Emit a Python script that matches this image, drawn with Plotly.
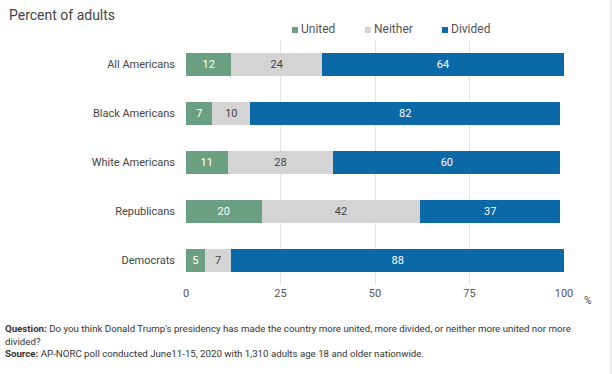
import plotly.graph_objects as go

categories = ["All Americans", "Black Americans", "White Americans", "Republicans", "Democrats"]
united = [12, 7, 11, 20, 5]
neither = [24, 10, 28, 42, 7]
divided = [64, 82, 60, 37, 88]
x_ticks = [0, 25, 50, 75, 100]
series_names = ["United", "Neither", "Divided"]

colors = {"United": "#6b9f82", "Neither": "#d4d4d4", "Divided": "#0a69a6"}
text_colors = {"United": "white", "Neither": "#444444", "Divided": "white"}

W, H = 612, 374
L, R, T, B = 186, 612 - 564, 40, 374 - 285
PW, PH = W - L - R, H - T - B


def px(xs):
    return (xs - L) / PW


def py(ys):
    return 1 - (ys - T) / PH


fig = go.Figure()
for name, vals in zip(series_names, [united, neither, divided]):
    fig.add_trace(go.Bar(
        name=name, y=categories, x=vals, orientation="h",
        marker=dict(color=colors[name], line=dict(width=0)),
        text=[str(v) for v in vals], textposition="inside",
        insidetextanchor="middle",
        textfont=dict(color=text_colors[name], size=11, family="Roboto"),
        width=0.47, showlegend=False,
    ))

fig.update_layout(
    width=W, height=H,
    barmode="stack",
    paper_bgcolor="white", plot_bgcolor="white",
    margin=dict(l=L, r=R, t=T, b=B, autoexpand=False),
    font=dict(family="Roboto", color="#444444"),
    xaxis=dict(range=[0, 100], tickvals=x_ticks, ticktext=[str(t) for t in x_ticks],
               showgrid=True, gridcolor="#e3e3e3", gridwidth=1, zeroline=False,
               tickfont=dict(size=11, color="#555555"), ticks="", showline=False,
               automargin=False),
    yaxis=dict(autorange="reversed", showgrid=False, ticks="", ticklabelstandoff=10,
               tickfont=dict(size=11, color="#444444"), automargin=False),
)

# manual legend
legend_x = [292, 365, 442]
for name, lx in zip(series_names, legend_x):
    fig.add_shape(type="rect", xref="paper", yref="paper",
                  x0=px(lx), x1=px(lx + 6), y0=py(33), y1=py(27),
                  fillcolor=colors[name], line=dict(width=0))
    fig.add_annotation(text=name, xref="paper", yref="paper",
                       x=px(lx + 7), y=py(29.5), xanchor="left", yanchor="middle",
                       showarrow=False, font=dict(size=12, color="#555555"))

fig.add_annotation(text="Percent of adults", xref="paper", yref="paper",
                   x=px(7), y=py(15), xanchor="left", yanchor="middle",
                   showarrow=False, font=dict(size=14, color="#444444"))
fig.add_annotation(text="%", xref="paper", yref="paper",
                   x=px(587), y=py(300), xanchor="center", yanchor="middle",
                   showarrow=False, font=dict(size=10, color="#444444"))
fig.add_annotation(
    text="<b>Question:</b> Do you think Donald Trump's presidency has made the country more united, more divided, or neither more united nor more<br>divided?<br><b>Source:</b> AP-NORC poll conducted June11-15, 2020 with 1,310 adults age 18 and older nationwide.",
    xref="paper", yref="paper", x=px(3), y=py(321),
    xanchor="left", yanchor="top", align="left", showarrow=False,
    font=dict(size=9.7, color="#333333"))

fig.add_shape(type="line", xref="paper", yref="paper", x0=px(611), x1=px(611),
              y0=py(374), y1=py(0), line=dict(color="#dddddd", width=1))

fig.write_html("out.html", config={"displayModeBar": False},
               post_script="document.body.style.margin='0';")
